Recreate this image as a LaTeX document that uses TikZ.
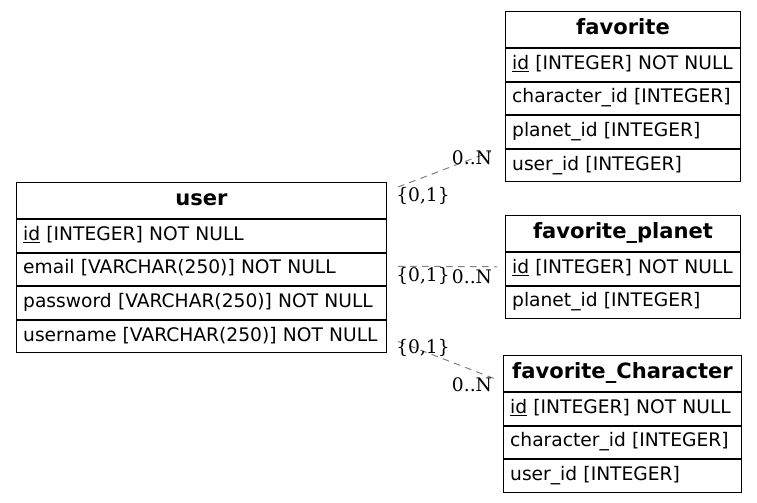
\documentclass[tikz,border=0pt]{standalone}
\usepackage{fontspec}
\setmainfont{DejaVu Sans}
\newfontfamily\cardfont{DejaVu Serif}
\usetikzlibrary{positioning,calc}

\newcommand{\tablefont}{\fontsize{14pt}{16pt}\selectfont}
\newcommand{\titlefont}{\fontsize{15.8pt}{18pt}\selectfont\bfseries}

\tikzset{
  champ/.style={draw, line width=0.75pt, inner xsep=5pt, inner ysep=0pt,
    text width=#1, align=left, minimum height=24.4pt,
    text height=10.5pt, text depth=3.5pt, font=\tablefont},
  entete/.style={champ=#1, align=center, minimum height=27pt,
    text height=11.5pt, text depth=3.5pt, font=\titlefont},
  lien/.style={gray, line width=0.75pt, dash pattern=on 5pt off 4pt},
  card/.style={font=\cardfont\tablefont, inner sep=0pt}
}

\begin{document}
\begin{tikzpicture}[x=0.75pt, y=-0.75pt]
  \useasboundingbox (0,0) rectangle (757,503);

  % Table user a gauche
  \node[entete=267.5pt, anchor=north west] (user) at (16,182) {user};
  \node[champ=267.5pt, below=0pt of user] (user-id) {\underline{id} [INTEGER] NOT NULL};
  \node[champ=267.5pt, below=0pt of user-id] (user-email) {email [VARCHAR(250)] NOT NULL};
  \node[champ=267.5pt, below=0pt of user-email] (user-password) {password [VARCHAR(250)] NOT NULL};
  \node[champ=267.5pt, below=0pt of user-password] (user-username) {username [VARCHAR(250)] NOT NULL};

  % Table favorite en haut a droite
  \node[entete=166.25pt, anchor=north west] (fav) at (505,11) {favorite};
  \node[champ=166.25pt, below=0pt of fav] (fav-id) {\underline{id} [INTEGER] NOT NULL};
  \node[champ=166.25pt, below=0pt of fav-id] (fav-character) {character\_id [INTEGER]};
  \node[champ=166.25pt, below=0pt of fav-character] (fav-planet) {planet\_id [INTEGER]};
  \node[champ=166.25pt, below=0pt of fav-planet] (fav-user) {user\_id [INTEGER]};

  % Table favorite_planet au milieu
  \node[entete=166.25pt, anchor=north west] (planet) at (505,215) {favorite\_planet};
  \node[champ=166.25pt, below=0pt of planet] (planet-id) {\underline{id} [INTEGER] NOT NULL};
  \node[champ=166.25pt, below=0pt of planet-id] (planet-planet) {planet\_id [INTEGER]};

  % Table favorite_Character en bas
  \node[entete=168.5pt, anchor=north west] (char) at (503,355) {favorite\_Character};
  \node[champ=168.5pt, below=0pt of char] (char-id) {\underline{id} [INTEGER] NOT NULL};
  \node[champ=168.5pt, below=0pt of char-id] (char-character) {character\_id [INTEGER]};
  \node[champ=168.5pt, below=0pt of char-character] (char-user) {user\_id [INTEGER]};

  % Extremites des liens
  \coordinate (s1) at ($(user.north east)+(11,5)$);
  \coordinate (e1) at ($(fav-user.north west)+(-14,3)$);
  \coordinate (s2) at ($(user-email.east)+(11,-3)$);
  \coordinate (e2) at ($(planet-id.west)+(-8,-2)$);
  \coordinate (s3) at ($(user-username.east)+(11,5)$);
  \coordinate (e3) at ($(char.west)+(-9,5)$);

  % Liens user -> favorite
  \draw[lien] (s1) -- (e1);
  \node[card] (c1a) at ($(s1)+(25,9)$) {\{0,1\}};
  \node[card] (c1b) at ($(e1)+(-19,6)$) {0..N};

  % Liens user -> favorite_planet
  \draw[lien] (s2) -- (e2);
  \node[card] (c2a) at ($(s2)+(25,10)$) {\{0,1\}};
  \node[card] (c2b) at ($(e2)+(-25,10)$) {0..N};

  % Liens user -> favorite_Character
  \draw[lien] (s3) -- (e3);
  \node[card] (c3a) at ($(s3)+(25,7)$) {\{0,1\}};
  \node[card] (c3b) at ($(e3)+(-22,6)$) {0..N};
\end{tikzpicture}
\end{document}
